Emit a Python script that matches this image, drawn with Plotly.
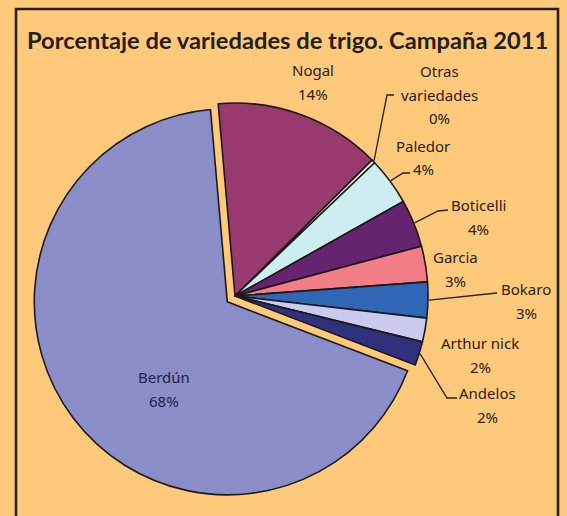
import math
import plotly.graph_objects as go

# ---- data ----
varieties = ["Nogal", "Otras<br>variedades", "Paledor", "Boticelli", "Garcia",
             "Bokaro", "Arthur nick", "Andelos", "Berdún"]
shares = [14, 0.3, 4, 4, 3, 3, 2, 2, 68]
colors = ["#993A6E", "#FFFFCC", "#CDEDF3", "#66236F", "#F27D86",
          "#2F66B6", "#CBCBF0", "#30307F", "#8A8DC8"]
pulls = [0, 0, 0, 0, 0, 0, 0, 0, 0.05]
title = "Porcentaje de variedades de trigo. Campaña 2011"

# ---- layout geometry (pixels) ----
W, H = 567, 516
CX, CY, R = 235, 296, 193
ROT = -5
half = R * (1 + max(pulls))
dom_x = [(CX - half) / W, (CX + half) / W]
dom_y = [(H - CY - half) / H, (H - CY + half) / H]

# label placements (centre of first line, px) and leader elbows (px)
label_pos = {
    "Nogal": (313, 70), "Otras<br>variedades": (439, 71), "Paledor": (423, 146),
    "Boticelli": (478, 205), "Garcia": (455, 257), "Bokaro": (526, 289),
    "Arthur nick": (480, 343), "Andelos": (487, 393), "Berdún": (164, 377),
}
leaders = {
    "Otras<br>variedades": [(387, 95), (394, 95)],
    "Paledor": [(403, 173), (410, 173)],
    "Boticelli": [(438, 211), (448, 210)],
    "Bokaro": [(497, 293)],
    "Andelos": [(447, 398), (457, 398)],
}
LINE_H = 23.5

def px(x):
    return x / W

def py(y):
    return 1 - y / H

total = sum(shares)
fig = go.Figure(go.Pie(
    labels=varieties, values=shares, sort=False, direction="clockwise",
    rotation=ROT, pull=pulls, textinfo="none", hoverinfo="label+percent",
    marker=dict(colors=colors, line=dict(color="#1a1a1a", width=1.6)),
    domain=dict(x=dom_x, y=dom_y), showlegend=False,
))

annotations = []
shapes = []
label_font = dict(family="Noto Sans, DejaVu Sans, sans-serif", size=15, color="#2a2118")
cum = 0
for name, v in zip(varieties, shares):
    pct = round(100 * v / total)
    lines = name.split("<br>") + [f"{pct}%"]
    x0, y0 = label_pos[name]
    f = dict(label_font)
    if name == "Berdún":
        f["color"] = "#1e1e4a"
    for i, t in enumerate(lines):
        annotations.append(dict(x=px(x0), y=py(y0 + i * LINE_H), xref="paper", yref="paper",
                                text=t, showarrow=False, font=f,
                                xanchor="center", yanchor="middle"))
    mid = math.radians(ROT + 360 * (cum + v / 2) / total)
    cum += v
    if name in leaders:
        tx, ty = CX + (R + 1) * math.sin(mid), CY - (R + 1) * math.cos(mid)
        pts = [(tx, ty)] + leaders[name]
        path = "M " + " L ".join(f"{px(a):.5f},{py(b):.5f}" for a, b in pts)
        shapes.append(dict(type="path", path=path, xref="paper", yref="paper",
                           line=dict(color="#2a2118", width=1.3)))

annotations.append(dict(x=px(287), y=py(40), xref="paper", yref="paper",
                        text=f"<b>{title}</b>", showarrow=False,
                        font=dict(family="Lato, Open Sans, sans-serif", size=23.7, color="#231f1c"),
                        xanchor="center", yanchor="middle"))

shapes.append(dict(type="rect", xref="paper", yref="paper",
                   x0=px(16), x1=px(558), y0=-0.05, y1=py(9),
                   line=dict(color="#222222", width=2.6), layer="below"))

fig.update_layout(width=W, height=H, margin=dict(l=0, r=0, t=0, b=0),
                  paper_bgcolor="#FFC97B", plot_bgcolor="#FFC97B",
                  annotations=annotations, shapes=shapes)
fig.write_html("out.html", config={"displayModeBar": False},
               post_script="document.body.style.margin='0';document.body.style.background='#FFC97B';")
